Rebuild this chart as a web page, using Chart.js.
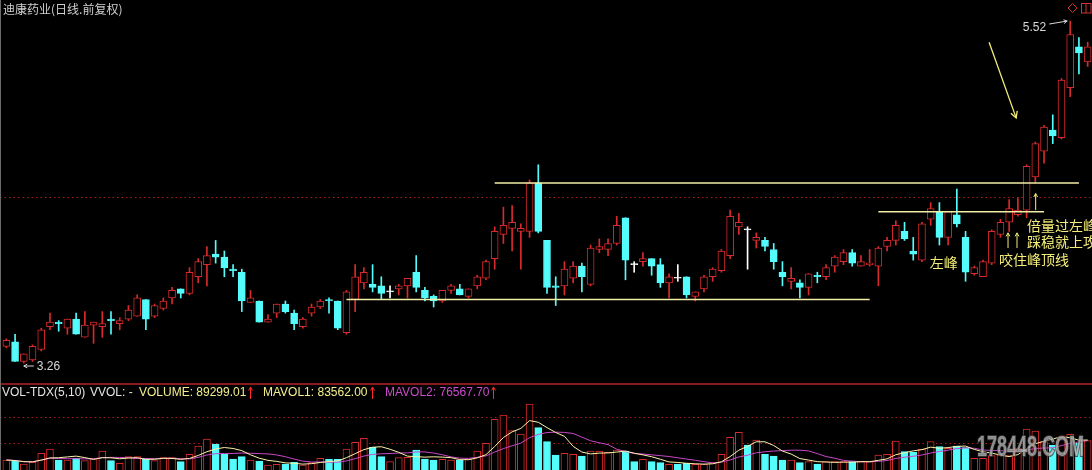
<!DOCTYPE html>
<html><head><meta charset="utf-8">
<script src="https://cdn.jsdelivr.net/npm/chart.js@4.4.0/dist/chart.umd.min.js"></script>
<style>html,body{margin:0;padding:0;background:#000;overflow:hidden}#wrap{position:relative;width:1092px;height:470px;background:#000}</style>
</head><body><div id="wrap"><canvas id="c"></canvas></div>
<script>
// ---- data ----
const opens = [3.37,3.40,3.27,3.28,3.35,3.50,3.53,3.49,3.55,3.43, 3.51,3.50,3.55,3.52,3.55,3.57,3.68,3.57,3.62,3.69,
 3.75,3.72,3.83,3.91,3.98,3.96,3.88,3.86,3.66,3.67, 3.53,3.59,3.65,3.59,3.50,3.59,3.63,3.68,3.67,3.46,
 3.68,3.79,3.78,3.77,3.73,3.75,3.77,3.86,3.74,3.70, 3.67,3.74,3.75,3.70,3.77,3.82,3.95,4.11,4.15,4.13,
 4.13,4.45,4.07,3.77,3.77,3.82,3.90,3.78,4.01,4.01, 4.05,4.22,3.91,3.93,3.95,3.91,3.79,3.82,3.83,3.70,
 3.75,3.83,3.87,3.97,4.16,4.14,4.07,4.07,4.01,3.86, 3.80,3.79,3.76,3.84,3.83,3.90,3.93,3.99,3.90,3.91,
 3.90,4.03,4.07,4.13,4.00,3.94,4.21,4.26,4.09,4.24, 4.09,3.85,3.83,3.92,4.11,4.19,4.24,4.27,4.49,4.66,
 4.80,4.75,5.08,5.35,5.25];
const highs = [3.42,3.45,3.32,3.38,3.49,3.59,3.54,3.55,3.59,3.60, 3.53,3.60,3.60,3.56,3.64,3.71,3.68,3.65,3.69,3.76,
 3.75,3.89,3.95,4.03,4.07,4.00,3.91,3.88,3.74,3.67, 3.58,3.65,3.67,3.61,3.56,3.65,3.68,3.69,3.67,3.74,
 3.91,3.89,3.91,3.83,3.77,3.78,3.82,3.97,3.76,3.71, 3.74,3.78,3.78,3.75,3.84,3.94,4.16,4.29,4.30,4.18,
 4.47,4.57,4.07,3.83,3.93,3.93,3.92,4.04,4.08,4.08, 4.23,4.22,3.93,3.99,3.95,3.95,3.85,3.91,3.83,3.73,
 3.84,3.89,4.01,4.27,4.25,4.16,4.12,4.09,4.05,3.93, 3.89,3.81,3.85,3.86,3.91,3.97,4.01,4.01,3.97,4.01,
 4.03,4.09,4.20,4.19,4.09,4.19,4.32,4.32,4.26,4.41, 4.13,3.90,3.94,4.14,4.21,4.34,4.35,4.57,4.72,4.83,
 4.90,5.14,5.52,5.41,5.38];
const lows = [3.36,3.27,3.26,3.27,3.34,3.48,3.47,3.45,3.45,3.43, 3.39,3.43,3.45,3.48,3.54,3.57,3.48,3.56,3.61,3.65,
 3.69,3.71,3.79,3.77,3.92,3.83,3.83,3.60,3.66,3.53, 3.53,3.56,3.59,3.48,3.49,3.57,3.62,3.59,3.48,3.45,
 3.60,3.75,3.73,3.68,3.69,3.71,3.69,3.73,3.67,3.63, 3.66,3.72,3.71,3.69,3.75,3.81,3.88,4.05,4.00,3.88,
 4.09,4.12,3.72,3.64,3.71,3.79,3.73,3.77,3.99,3.97, 4.04,3.81,3.86,3.90,3.84,3.76,3.69,3.80,3.69,3.67,
 3.73,3.80,3.86,3.95,4.11,3.88,4.02,4.00,3.88,3.77, 3.75,3.69,3.71,3.79,3.81,3.86,3.91,3.90,3.90,3.90,
 3.77,4.00,4.04,4.07,3.94,3.93,4.17,4.04,4.04,4.16, 3.80,3.84,3.83,3.91,4.09,4.13,4.23,4.22,4.45,4.58,
 4.71,4.74,5.02,5.17,5.22];
const closes = [3.41,3.27,3.32,3.37,3.48,3.53,3.52,3.55,3.45,3.51, 3.53,3.52,3.54,3.54,3.61,3.69,3.55,3.64,3.67,3.74,
 3.72,3.86,3.93,3.97,3.96,3.89,3.87,3.67,3.69,3.53, 3.55,3.65,3.60,3.52,3.55,3.63,3.67,3.67,3.49,3.73,
 3.83,3.86,3.76,3.72,3.73,3.77,3.82,3.76,3.69,3.67, 3.74,3.77,3.71,3.75,3.83,3.93,4.13,4.17,4.19,4.15,
 4.45,4.13,3.76,3.76,3.88,3.90,3.83,4.02,4.03,4.05, 4.17,3.94,3.91,3.95,3.90,3.79,3.83,3.82,3.71,3.73,
 3.83,3.88,4.00,4.23,4.19,4.14,4.09,4.03,3.93,3.83, 3.82,3.76,3.85,3.83,3.89,3.96,3.99,3.92,3.93,3.92,
 4.02,4.07,4.17,4.08,3.98,4.18,4.28,4.09,4.26,4.18, 3.86,3.89,3.93,4.13,4.19,4.28,4.27,4.56,4.71,4.82,
 4.76,5.13,5.43,5.31,5.35];
const volumes = [34200,31400,22800,27600,53300,65600,34200,34200,39000,32200,
 39000,59900,32200,24800,43600,43600,36200,32200,40800,40800,
 29400,50400,74100,94000,79800,50400,37000,43600,34200,31400,
 20000,21900,22800,27600,20000,26500,39000,36200,36200,65600,
 84600,96000,70400,43600,29400,40800,41900,62700,37000,34200,
 36200,34200,34200,37000,59900,81800,150200,162500,117700,108300,
 193800,126300,86400,48500,53300,50400,45600,59900,59900,56100,
 62700,59900,29400,36200,29400,26500,21900,21900,24800,21900,
 21900,26500,50400,98900,113100,77000,91200,50400,45600,34200,
 34200,26500,29400,22800,29400,29400,29400,29400,29400,29400,
 48500,50400,88400,57900,56100,65600,86400,72100,67500,74100,
 69300,39000,39000,46500,48500,46500,67500,122600,116900,86400,
 77000,100600,107400,81800,89299.01];
const days = opens.map((_, i) => 'D' + (i + 1));
// horizontal support / resistance lines drawn on the picture
const levelPrices = [4.45, 3.68, 4.26];
const levelFrom = [56, 39, 100];
const levelTo = [123, 99, 119];
// dotted grid values
const priceGrid = [4.36];
const volGrid = [82700, 156800];
// header readings
const headerVolume = 89299.01, headerMavol1 = 83562.00, headerMavol2 = 76567.70;

// ---- styling ----
const UP = '#d82a2a', DOWN = '#54fcfc', FLAT = '#ffffff';
const LEVEL = '#f2eea6';
const candleColor = opens.map((o, i) => closes[i] > o ? UP : (closes[i] < o ? DOWN : FLAT));
const volColor = opens.map((o, i) => {
  if (closes[i] > o) return UP;
  if (closes[i] < o) return DOWN;
  return (i > 0 && closes[i] < closes[i - 1]) ? DOWN : UP;
});
function ma(arr, n) {
  return arr.map((_, i) => { const s = arr.slice(Math.max(0, i - n + 1), i + 1); return s.reduce((a, b) => a + b, 0) / s.length; });
}
const mavol1 = ma(volumes, 5), mavol2 = ma(volumes, 10);

const datasets = [
  { type: 'bar', label: 'body', yAxisID: 'yP', order: 2, grouped: false, barThickness: 7, minBarLength: 1,
    data: opens.map((o, i) => [Math.min(o, closes[i]), Math.max(o, closes[i])]),
    backgroundColor: candleColor.map(c => c === UP ? '#000' : c), borderColor: candleColor,
    borderWidth: 1, borderSkipped: false },
  { type: 'bar', label: 'wick', yAxisID: 'yP', order: 3, grouped: false, barThickness: 1,
    data: lows.map((l, i) => [l, highs[i]]), backgroundColor: candleColor, borderWidth: 0 },
  { type: 'bar', label: 'vol', yAxisID: 'yV', order: 6, grouped: false, barThickness: 7,
    data: volumes, backgroundColor: volColor.map(c => c === UP ? '#000' : c), borderColor: volColor,
    borderWidth: 1, borderSkipped: false },
  { type: 'line', label: 'MAVOL1', yAxisID: 'yV', order: 4, data: mavol1, borderColor: '#fbf3a8',
    borderWidth: 1, pointRadius: 0, tension: 0 },
  { type: 'line', label: 'MAVOL2', yAxisID: 'yV', order: 5, data: mavol2, borderColor: '#c848c8',
    borderWidth: 1, pointRadius: 0, tension: 0 }
];
levelPrices.forEach((p, j) => {
  datasets.push({ type: 'line', label: 'level' + j, yAxisID: 'yP', order: 1,
    data: days.map((_, i) => (i >= levelFrom[j] && i <= levelTo[j]) ? p : null),
    borderColor: LEVEL, borderWidth: 1.5, pointRadius: 0, spanGaps: false });
});

function arrowLine(ctx, x1, y1, x2, y2, h) {
  ctx.beginPath(); ctx.moveTo(x1, y1); ctx.lineTo(x2, y2); ctx.stroke();
  const ang = Math.atan2(y2 - y1, x2 - x1);
  ctx.beginPath();
  ctx.moveTo(x2 - h * Math.cos(ang - 0.5), y2 - h * Math.sin(ang - 0.5));
  ctx.lineTo(x2, y2);
  ctx.lineTo(x2 - h * Math.cos(ang + 0.5), y2 - h * Math.sin(ang + 0.5));
  ctx.stroke();
}

// annotations (positions expressed in candle index / price)
const notes = [
  { text: '左峰', k: 105.9, p: 3.92 },
  { text: '倍量过左峰', k: 117.05, p: 4.17 },
  { text: '踩稳就上攻', k: 117.05, p: 4.06 },
  { text: '咬住峰顶线', k: 113.83, p: 3.94 }
];
const upArrows = [ { k: 114.87, p0: 4.02, p1: 4.12 }, { k: 115.9, p0: 4.02, p1: 4.12 }, { k: 118.04, p0: 4.27, p1: 4.38 } ];
const bigArrow = { k0: 112.7, p0: 5.38, k1: 115.8, p1: 4.88 };

const overlay = {
  id: 'overlay',
  beforeDatasetsDraw(chart) {
    const { ctx, scales } = chart; const W = chart.width;
    ctx.save();
    ctx.strokeStyle = '#a81c1c'; ctx.lineWidth = 1; ctx.setLineDash([1.5, 3]);
    priceGrid.forEach(v => { const y = Math.round(scales.yP.getPixelForValue(v)) + 0.5; ctx.beginPath(); ctx.moveTo(0, y); ctx.lineTo(W, y); ctx.stroke(); });
    volGrid.forEach(v => { const y = Math.round(scales.yV.getPixelForValue(v)) + 0.5; ctx.beginPath(); ctx.moveTo(0, y); ctx.lineTo(W, y); ctx.stroke(); });
    ctx.setLineDash([]);
    ctx.strokeStyle = '#b82222'; ctx.lineWidth = 1.5;
    ctx.beginPath(); ctx.moveTo(0, 384); ctx.lineTo(W, 384); ctx.stroke();
    ctx.strokeStyle = '#6a6a6a'; ctx.lineWidth = 1;
    ctx.beginPath(); ctx.moveTo(0.5, 0); ctx.lineTo(0.5, chart.height); ctx.stroke();
    ctx.restore();
  },
  afterDatasetsDraw(chart) {
    const { ctx, scales } = chart;
    const xs = scales.x, yP = scales.yP;
    const x0 = xs.getPixelForValue(0), dx = xs.getPixelForValue(1) - x0;
    const X = k => x0 + k * dx, Y = p => yP.getPixelForValue(p);
    ctx.save();
    // title
    ctx.font = '12px "Noto Sans CJK SC"'; ctx.fillStyle = '#d0d0d0'; ctx.textBaseline = 'top'; ctx.textAlign = 'left';
    ctx.fillText('迪康药业(日线.前复权)', 3, 3);
    // top-right icons
    ctx.strokeStyle = '#d03434'; ctx.lineWidth = 1;
    ctx.beginPath(); ctx.moveTo(1072.5, 3.5); ctx.lineTo(1077, 8); ctx.lineTo(1072.5, 12.5); ctx.lineTo(1068, 8); ctx.closePath(); ctx.stroke();
    ctx.strokeRect(1081.5, 3.5, 9.5, 9.5); ctx.beginPath(); ctx.moveTo(1086, 3.5); ctx.lineTo(1086, 13); ctx.stroke();
    // max / min labels
    let hiK = 0, loK = 0;
    highs.forEach((h, i) => { if (h > highs[hiK]) hiK = i; });
    lows.forEach((l, i) => { if (l < lows[loK]) loK = i; });
    const hx = X(hiK), hy = Y(highs[hiK]);
    ctx.font = '12px "Liberation Sans"'; ctx.fillStyle = '#d8d8d8'; ctx.strokeStyle = '#d8d8d8'; ctx.textBaseline = 'middle';
    ctx.textAlign = 'right'; ctx.fillText(highs[hiK].toFixed(2), hx - 24, hy + 7);
    arrowLine(ctx, hx - 21, hy + 3, hx - 3, hy, 4);
    const lx = X(loK), ly = Y(lows[loK]);
    ctx.textAlign = 'left'; ctx.fillText(lows[loK].toFixed(2), lx + 13, ly + 3.5);
    arrowLine(ctx, lx + 10, ly + 3, lx, ly + 3, 4);
    // volume header
    ctx.font = '12px "Liberation Sans"'; ctx.textBaseline = 'middle'; ctx.textAlign = 'left';
    const hy2 = 393;
    ctx.fillStyle = '#e4e4e4'; ctx.fillText('VOL-TDX(5,10)', 2, hy2); ctx.fillText('VVOL: -', 90, hy2);
    ctx.fillStyle = '#f4ef8c'; ctx.fillText('VOLUME: ' + headerVolume.toFixed(2), 139, hy2);
    ctx.fillText('MAVOL1: ' + headerMavol1.toFixed(2), 263, hy2);
    ctx.fillStyle = '#cc4ccc'; ctx.fillText('MAVOL2: ' + headerMavol2.toFixed(2), 385, hy2);
    ctx.strokeStyle = '#ff2a2a'; ctx.lineWidth = 1;
    [250.5, 372.5, 493.5].forEach(ax => arrowLine(ctx, ax, 399, ax, 387, 4));
    // annotations
    ctx.font = '14px "Noto Sans CJK SC"'; ctx.fillStyle = '#f4ee78'; ctx.textAlign = 'left'; ctx.textBaseline = 'middle';
    notes.forEach(n => ctx.fillText(n.text, X(n.k), Y(n.p)));
    ctx.strokeStyle = '#f4ee78'; ctx.lineWidth = 1;
    upArrows.forEach(a => arrowLine(ctx, X(a.k), Y(a.p0), X(a.k), Y(a.p1), 4));
    ctx.strokeStyle = '#f2ec7a'; ctx.lineWidth = 1.3;
    arrowLine(ctx, X(bigArrow.k0), Y(bigArrow.p0), X(bigArrow.k1), Y(bigArrow.p1), 7);
    // watermark
    ctx.save();
    ctx.translate(977, 456); ctx.scale(0.62, 1);
    ctx.font = 'bold 29px "Liberation Sans"'; ctx.textBaseline = 'alphabetic'; ctx.textAlign = 'left';
    ctx.lineWidth = 2; ctx.strokeStyle = 'rgba(60,60,60,0.8)'; ctx.strokeText('178448.COM', 0, 0);
    ctx.fillStyle = 'rgba(190,190,190,0.72)'; ctx.fillText('178448.COM', 0, 0);
    ctx.restore();
    ctx.restore();
  }
};

new Chart(document.getElementById('c'), {
  data: { labels: days, datasets },
  options: {
    responsive: true, maintainAspectRatio: false, animation: false,
    layout: { padding: { left: 2, right: 0, top: 0, bottom: 0 } },
    plugins: { legend: { display: false }, tooltip: { enabled: false } },
    scales: {
      x: { type: 'category', offset: true, display: false },
      yP: { type: 'linear', display: false, min: 2.553, max: 5.659 },
      yV: { type: 'linear', display: false, min: 5700, max: 1345200 }
    }
  },
  plugins: [overlay]
});
</script></body></html>
